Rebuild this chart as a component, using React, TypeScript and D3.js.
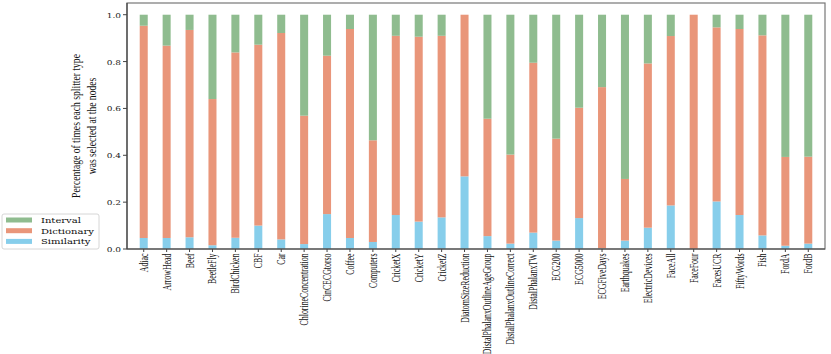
import * as d3 from "d3";

const categories = [
  "Adiac", "ArrowHead", "Beef", "BeetleFly", "BirdChicken", "CBF", "Car",
  "ChlorineConcentration", "CinCECGtorso", "Coffee", "Computers", "CricketX",
  "CricketY", "CricketZ", "DiatomSizeReduction", "DistalPhalanxOutlineAgeGroup",
  "DistalPhalanxOutlineCorrect", "DistalPhalanxTW", "ECG200", "ECG5000",
  "ECGFiveDays", "Earthquakes", "ElectricDevices", "FaceAll", "FaceFour",
  "FacesUCR", "FiftyWords", "Fish", "FordA", "FordB",
];

// share of each splitter type (bottom to top: similarity, dictionary, interval)
const similarity = [
  0.047, 0.047, 0.05, 0.016, 0.048, 0.1, 0.041, 0.021, 0.149, 0.047, 0.03,
  0.145, 0.117, 0.135, 0.31, 0.055, 0.023, 0.07, 0.036, 0.132, 0.003, 0.036,
  0.091, 0.186, 0.0, 0.203, 0.145, 0.058, 0.014, 0.023,
];
const dictionary = [
  0.906, 0.821, 0.885, 0.624, 0.791, 0.772, 0.881, 0.548, 0.676, 0.892, 0.434,
  0.765, 0.789, 0.775, 0.69, 0.501, 0.38, 0.725, 0.435, 0.471, 0.688, 0.263,
  0.701, 0.723, 1.0, 0.743, 0.794, 0.854, 0.379, 0.371,
];
const interval = [
  0.047, 0.132, 0.065, 0.36, 0.161, 0.128, 0.078, 0.431, 0.175, 0.061, 0.536,
  0.09, 0.094, 0.09, 0.0, 0.444, 0.597, 0.205, 0.529, 0.397, 0.309, 0.701,
  0.208, 0.091, 0.0, 0.054, 0.061, 0.088, 0.607, 0.606,
];
const yTicks = [0, 0.2, 0.4, 0.6, 0.8, 1.0];

const seriesNames = ["Similarity", "Dictionary", "Interval"];
const colors: Record<string, string> = {
  Similarity: "#87CEEB",
  Dictionary: "#E9967A",
  Interval: "#8FBC8F",
};

const W = 831;
const H = 354;
const left = 127, right = 825, top = 3, bottom = 249;
const sq = 0.74; // the picture is squeezed vertically
const sqX = 0.665; // rotated tick labels

export default function App() {
  const rows = categories.map((c, i) => ({
    cat: c,
    Similarity: similarity[i],
    Dictionary: dictionary[i],
    Interval: interval[i],
  }));
  const stack = d3.stack<any>().keys(seriesNames)(rows);

  const x = d3.scaleBand().domain(categories).range([left, right]).paddingInner(0).paddingOuter(0.23);
  const y = d3.scaleLinear().domain([0, 1.05]).range([bottom, top]);
  const bw = x.bandwidth() * 0.35;

  const serif = "'Liberation Serif', 'Times New Roman', serif";
  const dejavu = "'DejaVu Serif', serif";

  const legendItems = ["Interval", "Dictionary", "Similarity"];

  return (
    <svg width={W} height={H} style={{ position: "absolute", left: 0, top: 0 }}>
      <rect width={W} height={H} fill="#fff" />
      {stack.map((s) => (
        <g key={s.key} fill={colors[s.key]}>
          {s.map((d, i) => (
            <rect
              key={i}
              x={(x(categories[i]) as number) + x.bandwidth() / 2 - bw / 2}
              y={y(d[1])}
              width={bw}
              height={Math.max(0, y(d[0]) - y(d[1]))}
            />
          ))}
        </g>
      ))}
      {/* frame */}
      <rect x={left} y={top} width={right - left} height={bottom - top} fill="none" stroke="#777" strokeWidth={1.2} />
      <line x1={left} x2={left} y1={top} y2={bottom} stroke="#444" strokeWidth={1.2} />
      <line x1={left} x2={right} y1={bottom} y2={bottom} stroke="#444" strokeWidth={1.2} />

      {/* y axis */}
      {yTicks.map((t) => (
        <g key={t}>
          <line x1={left - 4} x2={left} y1={y(t)} y2={y(t)} stroke="#444" />
          <text
            transform={`translate(${left - 6},${y(t) + 3}) scale(1,${sq})`}
            textAnchor="end"
            fontFamily={dejavu}
            fontSize={9}
            fill="#222"
          >
            {t.toFixed(1)}
          </text>
        </g>
      ))}

      {/* x axis */}
      {categories.map((c) => {
        const cx = (x(c) as number) + x.bandwidth() / 2;
        return (
          <g key={c}>
            <line x1={cx} x2={cx} y1={bottom} y2={bottom + 3} stroke="#444" />
            <text
              transform={`translate(${cx + 4},${bottom + 4.5}) rotate(-90) scale(${sqX},1)`}
              textAnchor="end"
              fontFamily={serif}
              fontSize={11.8}
              fill="#111"
            >
              {c}
            </text>
          </g>
        );
      })}

      {/* y label */}
      <g transform={`translate(80,${(top + bottom) / 2}) rotate(-90) scale(${sq},1)`}>
        <text textAnchor="middle" fontFamily={serif} fontSize={13} fill="#111">
          Percentage of times each splitter type
        </text>
        <text y={16.5} textAnchor="middle" fontFamily={serif} fontSize={13} fill="#111">
          was selected at the nodes
        </text>
      </g>

      {/* legend */}
      <rect x={2} y={214} width={97} height={35} rx={2} fill="#fff" stroke="#ccc" strokeWidth={0.8} />
      {legendItems.map((k, i) => (
        <g key={k} transform={`translate(6,${220 + i * 10.7})`}>
          <rect x={0} y={-2.5} width={26} height={5} fill={colors[k]} />
          <text
            transform={`translate(35,3) scale(1,${sq})`}
            fontFamily={dejavu}
            fontSize={10}
            fill="#111"
          >
            {k}
          </text>
        </g>
      ))}
    </svg>
  );
}
